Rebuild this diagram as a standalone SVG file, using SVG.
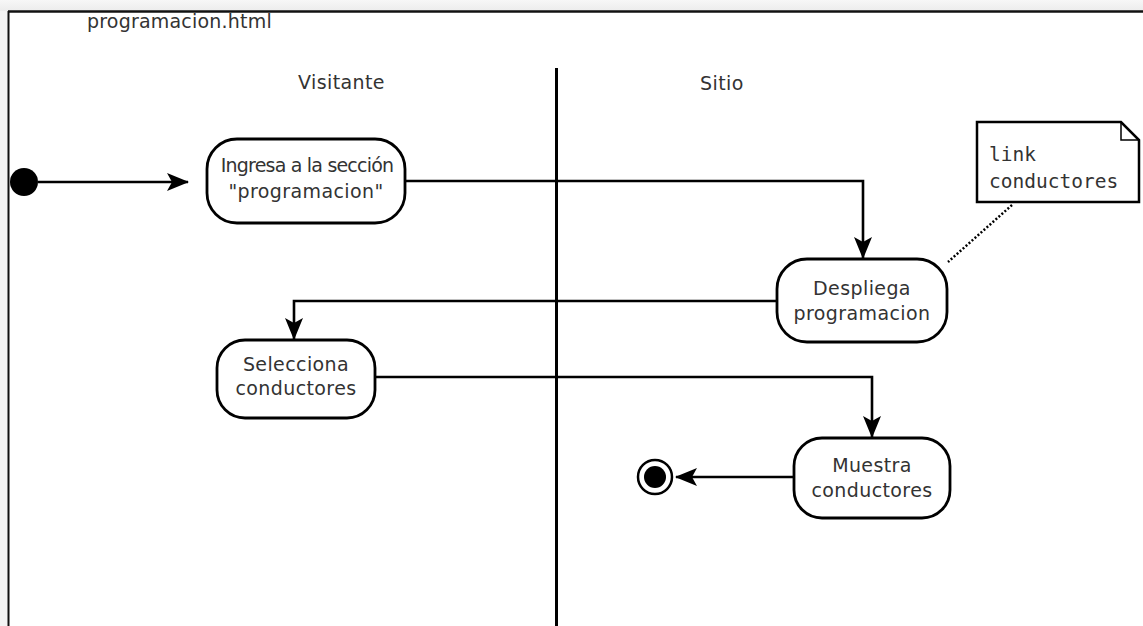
<svg xmlns="http://www.w3.org/2000/svg" width="1143" height="626" viewBox="0 0 1143 626">
  <style>
    .t { font-family: "DejaVu Sans", Verdana, sans-serif; font-size: 19px; fill: #333; letter-spacing: 0.4px; }
    .c { text-anchor: middle; }
    .m { font-family: "DejaVu Sans Mono", "Liberation Mono", monospace; font-size: 19.5px; fill: #333; }
    .act { fill: #fff; stroke: #000; stroke-width: 2.8; }
    .conn { fill: none; stroke: #000; stroke-width: 2.6; }
  </style>
  <defs>
    <linearGradient id="bg" x1="0" y1="0" x2="0" y2="1">
      <stop offset="0" stop-color="#f7f7f7"/>
      <stop offset="1" stop-color="#ececec"/>
    </linearGradient>
    <marker id="arr" viewBox="0 0 22 18" refX="21" refY="9" markerWidth="22" markerHeight="18" markerUnits="userSpaceOnUse" orient="auto">
      <path d="M0,0 L22,9 L0,18 L5,9 Z" fill="#000"/>
    </marker>
  </defs>
  <rect x="0" y="0" width="1143" height="626" fill="#f4f4f4"/>
  <rect x="0" y="0" width="1143" height="11" fill="url(#bg)"/>
  <rect x="9" y="12" width="1134" height="614" fill="#fff"/>
  <line x1="8" y1="11.5" x2="1143" y2="11.5" stroke="#111" stroke-width="2.5"/>
  <line x1="8.5" y1="11" x2="8.5" y2="626" stroke="#111" stroke-width="2"/>

  <text class="t" x="87" y="28" style="letter-spacing:0.2px">programacion.html</text>
  <text class="t" x="298" y="89">Visitante</text>
  <text class="t" x="700" y="90">Sitio</text>
  <line x1="556.5" y1="68" x2="556.5" y2="626" stroke="#000" stroke-width="3"/>

  <g id="connectors">
    <line class="conn" x1="38" y1="182" x2="188" y2="182" marker-end="url(#arr)"/>
    <polyline class="conn" points="405,181 863,181 863,258" marker-end="url(#arr)"/>
    <polyline class="conn" points="777,301 294,301 294,339" marker-end="url(#arr)"/>
    <polyline class="conn" points="375,377 872,377 872,437" marker-end="url(#arr)"/>
    <line class="conn" x1="793" y1="477" x2="676" y2="477" marker-end="url(#arr)"/>
    <line x1="1012" y1="205" x2="948" y2="262" stroke="#000" stroke-width="2.5" stroke-dasharray="2,2"/>
  </g>

  <g id="start">
    <circle cx="24" cy="182" r="14" fill="#000"/>
  </g>

  <g id="n1">
    <rect class="act" x="207" y="139" width="198" height="84" rx="30" ry="30"/>
    <text class="t c" x="307" y="172" style="letter-spacing:-0.8px">Ingresa a la sección</text>
    <text class="t c" x="306" y="198">"programacion"</text>
  </g>

  <g id="n2">
    <rect class="act" x="777" y="259" width="170" height="83" rx="30" ry="30"/>
    <text class="t c" x="862" y="295">Despliega</text>
    <text class="t c" x="862" y="320">programacion</text>
  </g>

  <g id="note">
    <path d="M977,122 L1121,122 L1139,140 L1139,202 L977,202 Z" fill="#fff" stroke="#000" stroke-width="2.5"/>
    <path d="M1121,122 L1121,140 L1139,140" fill="none" stroke="#000" stroke-width="1.5"/>
    <text class="m" x="989" y="161">link</text>
    <text class="m" x="989" y="188">conductores</text>
  </g>

  <g id="n3">
    <rect class="act" x="217" y="340" width="158" height="78" rx="28" ry="28"/>
    <text class="t c" x="296" y="371">Selecciona</text>
    <text class="t c" x="296" y="395">conductores</text>
  </g>

  <g id="n4">
    <rect class="act" x="794" y="438" width="156" height="80" rx="28" ry="28"/>
    <text class="t c" x="872" y="472">Muestra</text>
    <text class="t c" x="872" y="497">conductores</text>
  </g>

  <g id="end">
    <circle cx="655" cy="477" r="17" fill="#fff" stroke="#000" stroke-width="2.5"/>
    <circle cx="655" cy="477" r="11" fill="#000"/>
  </g>
</svg>
